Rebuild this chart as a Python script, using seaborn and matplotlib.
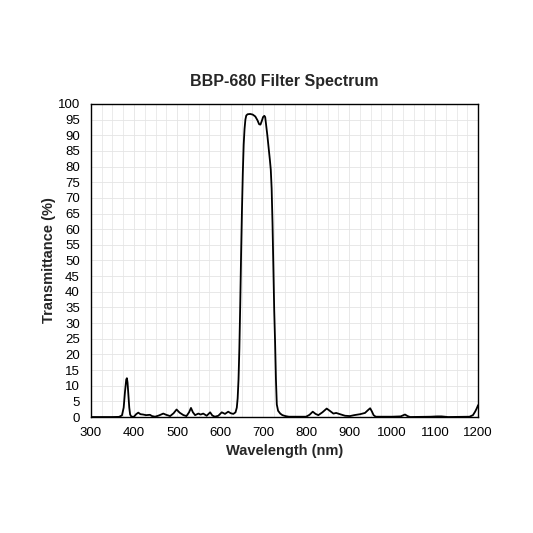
import matplotlib
matplotlib.use("Agg")
import matplotlib.pyplot as plt
import seaborn as sns
import pandas as pd
from matplotlib.ticker import MultipleLocator

wavelength = [300, 350, 365, 372, 376, 379, 382, 383.5, 385, 387, 389, 391, 394, 400,
              405, 410, 415, 421, 428, 437, 442, 449, 458, 468, 475, 484, 492, 499, 506,
              515, 522, 528, 532.5, 537, 542, 549.6, 555, 561, 569, 577, 582, 588, 596,
              604, 611.6, 619, 625, 631, 636, 639, 641, 643, 645, 647, 649, 651, 653, 655,
              657, 659, 661, 664, 670, 676, 682, 687, 691, 694, 697, 700, 703, 705, 707,
              710, 713, 716, 718, 720, 722, 724, 726, 728, 730, 732, 735, 740, 745, 752,
              760, 800, 808, 815.6, 822, 828.6, 838, 848, 855, 863.6, 870, 879, 890.7, 902,
              912, 925.6, 937, 944, 949, 953, 957, 962, 1000, 1020, 1030, 1036, 1042, 1090,
              1105, 1115, 1130, 1180, 1188, 1193, 1197, 1200]
transmittance = [0, 0, 0.05, 0.5, 3, 8, 12, 12.4, 11, 7, 3, 0.8, 0.1, 0.1,
                 0.9, 1.4, 0.9, 0.8, 0.6, 0.7, 0.3, 0.1, 0.5, 1.1, 0.7, 0.3, 1.2, 2.4, 1.4,
                 0.6, 0.3, 1.5, 2.9, 1.5, 0.6, 1.1, 0.8, 1.1, 0.4, 1.5, 0.5, 0.1, 0.4,
                 1.5, 1.0, 1.7, 1.2, 1.0, 1.5, 3, 6, 12, 22, 36, 52, 66, 78, 87,
                 92, 95, 96.3, 96.7, 96.8, 96.6, 96.0, 94.8, 93.5, 93.4, 94.5, 95.8, 96.2, 95.8, 93.5,
                 90, 86, 82, 79, 73, 62, 48, 34, 24, 12, 4, 2, 1.1, 0.6, 0.3,
                 0.1, 0.1, 0.7, 1.7, 1.0, 0.6, 1.5, 2.7, 2.0, 1.1, 1.3, 0.9, 0.4, 0.3,
                 0.6, 0.9, 1.3, 2.2, 2.8, 1.8, 0.6, 0.1, 0.1, 0.2, 0.8, 0.3, 0, 0.1,
                 0.2, 0.2, 0, 0.1, 0.6, 1.7, 2.8, 3.8]

x_ticks = list(range(300, 1201, 100))
y_ticks = list(range(0, 101, 5))

df = pd.DataFrame({"Wavelength": wavelength, "Transmittance": transmittance})

sns.set_style("white")
plt.rcParams["font.family"] = ["Liberation Sans", "DejaVu Sans"]

fig = plt.figure(figsize=(5.33, 5.33), dpi=100)
ax = fig.add_axes([0.1707, 0.2176, 0.7263, 0.5874])

sns.lineplot(data=df, x="Wavelength", y="Transmittance", ax=ax, color="black",
             linewidth=1.3, zorder=3)

ax.set_xlim(300, 1200)
ax.set_ylim(0, 100)
ax.set_xticks(x_ticks)
ax.set_yticks(y_ticks)
ax.xaxis.set_minor_locator(MultipleLocator(25))
ax.grid(which="major", color="#e4e4e4", linewidth=0.6)
ax.grid(which="minor", axis="x", color="#e8e8e8", linewidth=0.6)
ax.tick_params(axis="both", which="both", length=0, labelsize=9.5, colors="black")
ax.tick_params(axis="x", pad=7)
ax.tick_params(axis="y", pad=8)

for s in ax.spines.values():
    s.set_visible(True)
    s.set_color("black")
    s.set_linewidth(1.0)

ax.set_xlabel("Wavelength (nm)", fontsize=10.5, fontweight="bold", labelpad=4)
ax.set_ylabel("Transmittance (%)", fontsize=10.5, fontweight="bold", labelpad=1)
ax.set_title("BBP-680 Filter Spectrum", fontsize=11.5, fontweight="bold", pad=13)

fig.savefig("out.png", dpi=100, facecolor="white")
